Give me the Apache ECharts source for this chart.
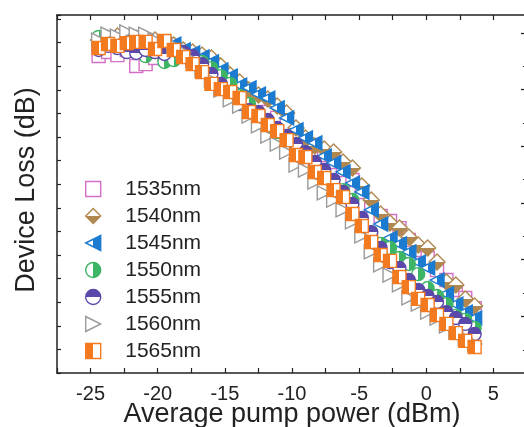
<!DOCTYPE html>
<html><head><meta charset="utf-8">
<script src="https://cdn.jsdelivr.net/npm/echarts@6/dist/echarts.min.js"></script>
<style>html,body{margin:0;padding:0;background:#fff}#c{width:524px;height:427px}</style>
</head><body><div id="c"></div>
<script>
// ---- data ----
const pumpPower = [-24.4, -23.7, -23.0, -22.3, -21.6, -20.9, -20.2, -19.5, -18.8, -18.1,
  -17.4, -16.7, -16.0, -15.3, -14.6, -13.9, -13.2, -12.5, -11.8, -11.1,
  -10.4, -9.7, -9.0, -8.3, -7.6, -6.9, -6.2, -5.5, -4.8, -4.1,
  -3.4, -2.7, -2.0, -1.3, -0.6, 0.1, 0.8, 1.5, 2.2, 2.9, 3.6];
const wavelengths = ['1535nm', '1540nm', '1545nm', '1550nm', '1555nm', '1560nm', '1565nm'];
const loss1535 = [13.43, 13.60, 13.47, 13.69, 13.01, 13.09, 13.35, 13.52, 13.43, 13.47,
  13.35, 13.18, 12.84, 12.54, 12.25, 11.91, 11.57, 11.31, 11.06, 10.81,
  10.47, 10.17, 9.87, 9.45, 9.24, 8.94, 8.60, 8.18, 7.67, 7.08,
  6.65, 6.44, 6.14, 5.64, 5.21, 4.87, 4.36, 3.94, 3.52, 3.18, 2.75];
const loss1540 = [14.11, 14.19, 14.28, 14.11, 14.19, 14.03, 14.11, 13.94, 13.90, 13.69,
  13.60, 13.47, 13.35, 13.01, 12.63, 12.33, 11.99, 11.78, 11.61, 11.31,
  11.02, 10.38, 9.96, 9.62, 9.49, 9.36, 8.94, 8.69, 7.92, 7.33,
  6.74, 6.36, 6.14, 5.76, 5.42, 5.30, 4.70, 3.86, 3.73, 3.14, 2.84];
const loss1545 = [14.11, 14.19, 13.94, 14.11, 13.94, 14.03, 13.86, 13.94, 13.94, 13.69,
  13.56, 13.39, 13.18, 12.84, 12.58, 12.20, 12.08, 11.82, 11.65, 11.23,
  10.81, 10.30, 9.96, 9.75, 9.19, 8.90, 8.52, 8.05, 7.67, 6.91,
  6.31, 5.72, 5.47, 5.13, 4.70, 4.45, 3.94, 3.35, 2.92, 2.58, 2.33];
const loss1550 = [14.24, 14.03, 14.11, 13.86, 13.60, 13.43, 13.60, 13.18, 13.26, 13.43,
  13.35, 13.18, 12.92, 12.58, 12.25, 11.74, 11.40, 10.97, 10.38, 10.21,
  9.87, 9.53, 9.36, 8.90, 8.52, 7.92, 7.75, 7.33, 6.48, 5.97,
  5.47, 5.30, 4.87, 4.62, 4.19, 3.60, 3.26, 2.92, 2.42, 2.25, 1.91];
const loss1555 = [13.69, 13.86, 13.77, 13.60, 13.56, 13.69, 13.60, 13.52, 13.69, 13.60,
  13.43, 13.09, 12.67, 12.25, 11.91, 11.40, 11.14, 11.06, 10.72, 10.38,
  10.04, 9.70, 9.36, 8.94, 8.60, 8.18, 7.67, 7.16, 6.57, 5.97,
  5.30, 4.70, 4.45, 3.94, 3.52, 3.26, 3.01, 2.58, 2.33, 2.08, 1.65];
const loss1560 = [14.11, 14.36, 14.28, 14.45, 14.36, 14.36, 14.11, 14.03, 13.86, 13.60,
  13.26, 12.84, 12.42, 11.99, 11.57, 11.31, 10.89, 10.47, 10.04, 9.70,
  9.36, 8.81, 8.60, 8.09, 7.63, 7.33, 6.91, 6.40, 5.81, 5.13,
  4.58, 4.15, 3.73, 3.18, 2.92, 2.58, 2.33, 1.99, 1.74, 1.48, 1.23];
const loss1565 = [13.77, 13.94, 13.86, 13.98, 14.03, 14.03, 13.73, 14.07, 13.69, 13.39,
  13.09, 12.75, 12.25, 12.03, 11.91, 11.65, 11.06, 10.89, 10.51, 10.25,
  9.87, 9.24, 9.15, 8.52, 8.26, 7.75, 7.46, 6.74, 6.23, 5.55,
  5.00, 4.75, 4.07, 3.64, 3.14, 2.88, 2.46, 2.08, 1.69, 1.36, 1.10];
const lossSeries = [loss1535, loss1540, loss1545, loss1550, loss1555, loss1560, loss1565];
// right-hand frame ticks (frame units)
const rightMajorTicks = [1, 2, 3, 4, 5, 6];
const rightMinorTicks = [0.41, 1.41, 2.41, 3.41, 4.41, 5.41];

// ---- styling ----
const FONT = '"Liberation Sans", Arial, Helvetica, sans-serif';
const INK = '#222';
const SQUARE = 'path://M0 0H100V100H0Z';
const DIAMOND = 'path://M50 0L100 50L50 100L0 50Z';
const TRI_LEFT = 'path://M0 50L100 0V100Z';
const TRI_RIGHT = 'path://M0 0L100 50L0 100Z';
function split(a, b, vertical) {
  return {type: 'linear', x: 0, y: 0, x2: vertical ? 0 : 1, y2: vertical ? 1 : 0,
    colorStops: [{offset: 0, color: a}, {offset: 0.5, color: a}, {offset: 0.5, color: b}, {offset: 1, color: b}]};
}
const looks = [
  {symbol: SQUARE, size: 13, stroke: '#d46fc6', fill: '#ffffff'},
  {symbol: DIAMOND, size: 16, stroke: '#b0884f', fill: split('#ffffff', '#b0884f', true)},
  {symbol: TRI_LEFT, size: 14, stroke: '#1b7bd0', fill: split('#ffffff', '#1b7bd0', false)},
  {symbol: 'circle', size: 13, stroke: '#3db565', fill: split('#ffffff', '#3db565', false)},
  {symbol: 'circle', size: 13, stroke: '#5a48aa', fill: split('#5a48aa', '#ffffff', true)},
  {symbol: TRI_RIGHT, size: 14, stroke: '#9a9a9a', fill: '#ffffff'},
  {symbol: SQUARE, size: 13, stroke: '#f47a1f', fill: split('#f47a1f', '#ffffff', false)}
];

const series = wavelengths.map((name, k) => ({
  type: 'scatter', name: name,
  data: pumpPower.map((x, i) => [x, lossSeries[k][i]]),
  symbol: looks[k].symbol, symbolSize: looks[k].size,
  itemStyle: {color: looks[k].fill, borderColor: looks[k].stroke, borderWidth: 1.4, opacity: 1},
  emphasis: {disabled: true},
  xAxisIndex: 0, yAxisIndex: 0
}));

const frameX = {min: -27.5, max: 7.5, interval: 2.5};
const chart = echarts.init(document.getElementById('c'), null, {renderer: 'canvas'});
chart.setOption({
  animation: false,
  backgroundColor: '#fff',
  grid: {left: 57, top: 15, width: 470, height: 358, containLabel: false, outerBoundsMode: 'none'},
  legend: {
    orient: 'vertical', left: 80, top: 173, itemWidth: 54, itemHeight: 15, itemGap: 5,
    symbolKeepAspect: true, selectedMode: false,
    itemStyle: {borderWidth: 1.4},
    textStyle: {fontSize: 21, color: INK, fontFamily: FONT, lineHeight: 22},
    data: wavelengths
  },
  xAxis: [
    {type: 'value', position: 'bottom', min: frameX.min, max: frameX.max, interval: frameX.interval,
      axisLine: {onZero: false, lineStyle: {color: INK, width: 1.5}},
      axisTick: {inside: true, length: 5, lineStyle: {color: INK, width: 1.2}},
      axisLabel: {color: INK, fontSize: 20, fontFamily: FONT, margin: 11,
        formatter: v => (Math.abs(v % 5) < 1e-9 ? String(v) : '')},
      splitLine: {show: false},
      name: 'Average pump power (dBm)', nameLocation: 'middle', nameGap: 28, nameMoveOverlap: false,
      nameTextStyle: {fontSize: 27, color: INK, fontFamily: FONT}},
    {type: 'value', position: 'top', min: frameX.min, max: frameX.max, interval: frameX.interval,
      axisLine: {onZero: false, lineStyle: {color: INK, width: 1.5}},
      axisTick: {inside: true, length: 5, lineStyle: {color: INK, width: 1.2}},
      axisLabel: {show: false}, splitLine: {show: false}}
  ],
  yAxis: [
    {type: 'value', position: 'left', min: 0, max: 15.17, interval: 1,
      axisLine: {show: true, onZero: false, lineStyle: {color: INK, width: 1.5}},
      axisTick: {inside: true, length: 4, lineStyle: {color: INK, width: 1.2}},
      axisLabel: {show: false}, splitLine: {show: false},
      name: 'Device Loss (dB)', nameLocation: 'middle', nameGap: 17, nameMoveOverlap: false,
      nameTextStyle: {fontSize: 27, color: INK, fontFamily: FONT, padding: [0, 0, 0, 8]}},
    {type: 'value', position: 'right', min: 0, max: 6.314,
      axisLine: {show: true, onZero: false, lineStyle: {color: INK, width: 1.5}},
      axisTick: {show: true, inside: true, length: 6, customValues: rightMajorTicks, lineStyle: {color: INK, width: 1.3}},
      axisLabel: {show: false}, splitLine: {show: false}},
    {type: 'value', position: 'right', min: 0, max: 6.314,
      axisLine: {show: false, onZero: false},
      axisTick: {show: true, inside: true, length: 4, customValues: rightMinorTicks, lineStyle: {color: INK, width: 1}},
      axisLabel: {show: false}, splitLine: {show: false}}
  ],
  series: series
});
</script>
</body></html>
